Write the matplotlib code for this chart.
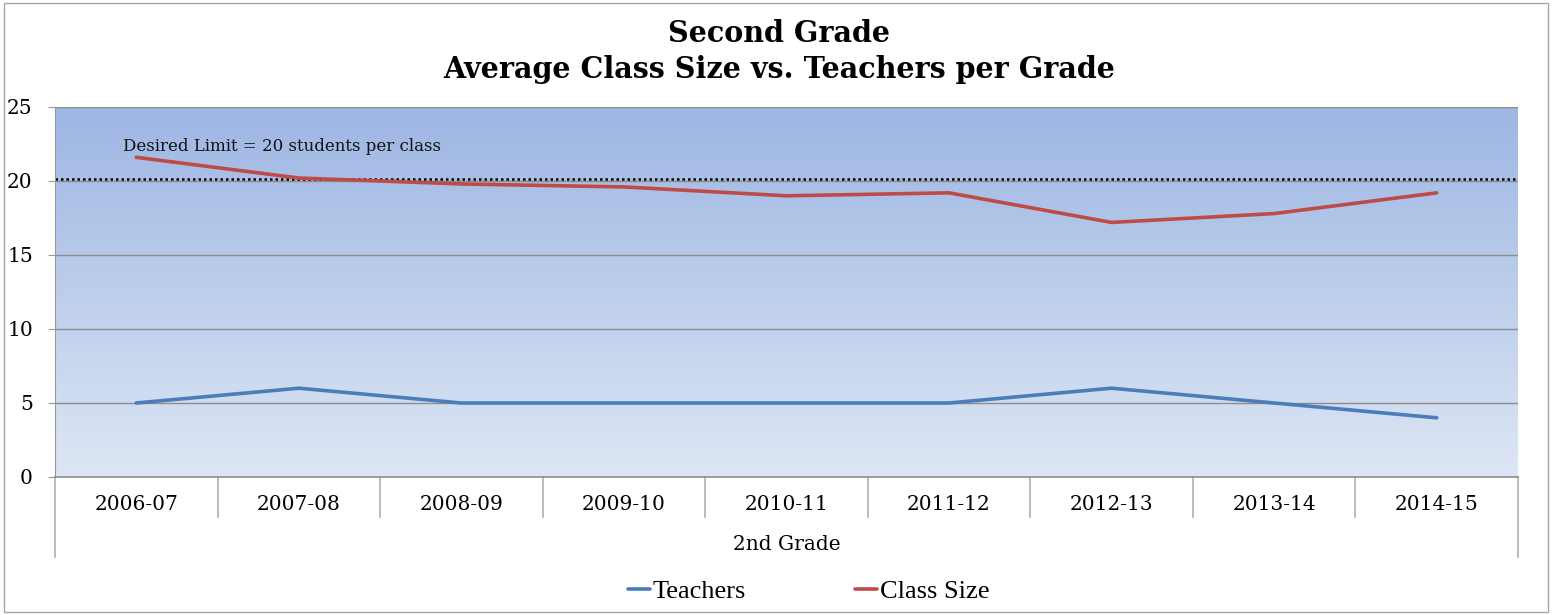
import numpy as np
import matplotlib
matplotlib.use("Agg")
import matplotlib.pyplot as plt
from matplotlib.colors import LinearSegmentedColormap
from matplotlib.patches import Rectangle

# chart data
years = ["2006-07", "2007-08", "2008-09", "2009-10", "2010-11",
         "2011-12", "2012-13", "2013-14", "2014-15"]
teachers = [5, 6, 5, 5, 5, 5, 6, 5, 4]
class_size = [21.6, 20.2, 19.8, 19.6, 19.0, 19.2, 17.2, 17.8, 19.2]
desired_limit = 20.15
group_label = "2nd Grade"
y_ticks = [0, 5, 10, 15, 20, 25]

serif = "DejaVu Serif"
W, H = 1552, 615

fig = plt.figure(figsize=(W / 100, H / 100), dpi=100)
fig.patches.append(Rectangle((4 / W, 3 / H), 1 - 8 / W, 1 - 6 / H,
                             transform=fig.transFigure, fill=False,
                             edgecolor="#a6a6a6", lw=1))

ax = fig.add_axes([55 / W, 1 - 477 / H, (1518 - 55) / W, (477 - 107) / H])
n = len(years)
ax.set_xlim(-0.5, n - 0.5)
ax.set_ylim(0, 25)

# gradient background
cmap = LinearSegmentedColormap.from_list("bg", ["#dde6f4", "#9db6e3"])
grad = np.linspace(0, 1, 256).reshape(-1, 1)
ax.imshow(grad, cmap=cmap, origin="lower", aspect="auto",
          extent=(-0.5, n - 0.5, 0, 25), zorder=0)

for yv in y_ticks[1:]:
    ax.axhline(yv, color="#8c8c8c", lw=1, zorder=1)

x = np.arange(n)
ax.plot(x, teachers, color="#4a7ebb", lw=2.6, label="Teachers", zorder=3,
        solid_capstyle="round")
ax.plot(x, class_size, color="#be4b48", lw=2.6, label="Class Size", zorder=3,
        solid_capstyle="round")
ax.axhline(desired_limit, color="black", lw=1.8, ls=(0, (1, 1.2)), zorder=2)
ax.text(-0.082, 22.35, "Desired Limit = 20 students per class",
        fontsize=12, family=serif, va="center", ha="left", color="#111111")

for s in ["top", "right", "bottom"]:
    ax.spines[s].set_visible(False)
ax.spines["left"].set_color("#999999")
ax.spines["left"].set_bounds(0, 25)

ax.set_yticks(y_ticks)
ax.set_yticklabels([str(v) for v in y_ticks], family=serif, fontsize=14.5)
ax.tick_params(axis="y", length=5, color="#999999", pad=11)
ax.set_xticks(x)
ax.set_xticklabels(years, family=serif, fontsize=14.5)
ax.tick_params(axis="x", length=0, pad=13)

# category axis lines (multi-level)
tr = ax.get_xaxis_transform()
ax.plot([-0.5, n - 0.5], [0, 0], color="#8c8c8c", lw=1.2, transform=tr,
        clip_on=False, zorder=4)
for b in np.arange(0.5, n - 0.5, 1):
    ax.plot([b, b], [0, -40 / 370], color="#b0b0b0", lw=1.2, transform=tr,
            clip_on=False)
for b in [-0.5, n - 0.5]:
    ax.plot([b, b], [0, -80 / 370], color="#b0b0b0", lw=1.2, transform=tr,
            clip_on=False)
ax.text((n - 1) / 2, -68 / 370, group_label, transform=tr, ha="center",
        va="center", family=serif, fontsize=14.5)

fig.text(0.502, 1 - 34 / H, "Second Grade", ha="center", va="center",
         family=serif, fontsize=20.6, fontweight="bold")
fig.text(0.502, 1 - 69 / H, "Average Class Size vs. Teachers per Grade",
         ha="center", va="center", family=serif, fontsize=20.6,
         fontweight="bold")

fig.legend(loc="center", bbox_to_anchor=(0.521, 1 - 591 / H), ncol=2,
           frameon=False, handlelength=0.85, handletextpad=0.1,
           columnspacing=4.1, prop={"family": "Liberation Serif", "size": 19})

fig.savefig("out.png", dpi=100)
